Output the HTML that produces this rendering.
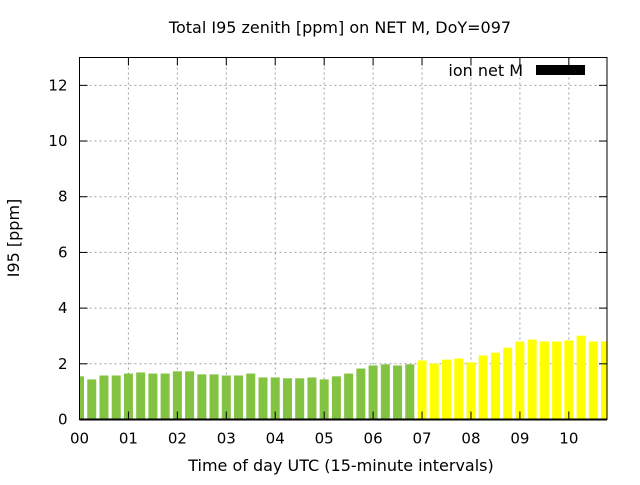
<!DOCTYPE html>
<html><head><meta charset="utf-8"><style>
body{margin:0;background:#fff}
svg text{font-family:"DejaVu Sans","Liberation Sans",sans-serif;font-size:15px;fill:#000}
svg text.big{font-size:16px}
</style></head><body>
<svg id="chart" width="640" height="480">
<rect width="640" height="480" fill="#fff"/>
<g id="grid"></g>
<g id="bars"></g>
<g id="axes"></g>
<text class="big" x="340" y="33" text-anchor="middle">Total I95 zenith [ppm] on NET M, DoY=097</text>
<text class="big" x="341" y="471" text-anchor="middle">Time of day UTC (15-minute intervals)</text>
<text class="big" transform="translate(19,238) rotate(-90)" text-anchor="middle">I95 [ppm]</text>
<g>
<text class="big" x="523" y="76" text-anchor="end">ion net M</text>
<rect x="536" y="65" width="49" height="10" fill="#000"/>
</g>
</svg>
<script>
const values=[1.55,1.44,1.58,1.58,1.65,1.69,1.65,1.65,1.73,1.73,1.62,1.62,1.58,1.58,1.65,1.51,1.51,1.48,1.48,1.51,1.44,1.55,1.65,1.83,1.94,1.98,1.94,1.98,2.12,2.01,2.15,2.19,2.05,2.30,2.40,2.58,2.80,2.87,2.80,2.80,2.84,3.01,2.80,2.80];
const greenCount=28;
const yTicks=[0,2,4,6,8,10,12];
const xTickLabels=["00","01","02","03","04","05","06","07","08","09","10"];
const X0=79.5,X1=607,Y0=419.5,Y1=57.5,xMax=10.78,yMax=13;
const sx=h=>X0+h/xMax*(X1-X0);
const sy=v=>Y0-v/yMax*(Y0-Y1);
const NS="http://www.w3.org/2000/svg";
function mk(t,a,p){const e=document.createElementNS(NS,t);for(const k in a)e.setAttribute(k,a[k]);p.appendChild(e);return e;}
const grid=document.getElementById('grid'),bars=document.getElementById('bars'),axes=document.getElementById('axes');
yTicks.forEach(v=>{
 const y=sy(v);
 if(v>0){const l=mk('line',{x1:X0,x2:X1,y1:y,y2:y,stroke:'#a0a0a0','stroke-dasharray':'2,3'},grid);
 
 }
 mk('line',{x1:X0,x2:X0+8,y1:y,y2:y,stroke:'#000'},axes);
 mk('line',{x1:X1,x2:X1-8,y1:y,y2:y,stroke:'#000'},axes);
 const tx=mk('text',{x:X0-12,y:y+5,'text-anchor':'end'},axes);tx.textContent=v;
 
 
});
xTickLabels.forEach((lab,i)=>{
 const x=sx(i);
 if(i>0){const l=mk('line',{x1:x,x2:x,y1:Y1,y2:Y0,stroke:'#a0a0a0','stroke-dasharray':'2,3'},grid);
 
 }
 mk('line',{x1:x,x2:x,y1:Y0,y2:Y0-8,stroke:'#000'},axes);
 mk('line',{x1:x,x2:x,y1:Y1,y2:Y1+8,stroke:'#000'},axes);
 const tx=mk('text',{x:x,y:Y0+24,'text-anchor':'middle'},axes);tx.textContent=lab;
 
 
});
const clip=mk('clipPath',{id:'pc'},document.getElementById('chart'));
mk('rect',{x:X0,y:Y1,width:X1-X0,height:Y0-Y1},clip);
bars.setAttribute('clip-path','url(#pc)');
values.forEach((v,i)=>{
 const c=sx(i/4),w=9;
 const r=mk('rect',{x:c-w/2,y:sy(v),width:w,height:Y0-sy(v),fill:i<greenCount?'#82c341':'#ffff00'},bars);
 
 
});
const f=mk('rect',{x:X0,y:Y1,width:X1-X0,height:Y0-Y1,fill:'none',stroke:'#000','stroke-width':1},axes);


mk('line',{x1:X0,x2:X1,y1:Y0,y2:Y0,stroke:'#000','stroke-width':2},axes);
</script>
</body></html>
